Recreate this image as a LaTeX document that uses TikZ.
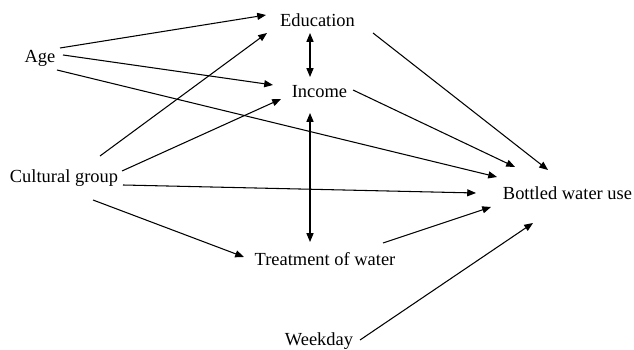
\documentclass[tikz,border=0pt]{standalone}
\usepackage{fontspec}
\setmainfont{Liberation Serif}
\usepackage{tikz}
\usetikzlibrary{arrows.meta}

\tikzset{
  lbl/.style={anchor=base, inner sep=0pt, font=\fontsize{10.5}{12}\selectfont},
  arr/.style={-{Triangle[length=5pt,width=4pt]}, line width=0.6pt},
  darr/.style={{Triangle[length=5pt,width=4pt]}-{Triangle[length=5pt,width=4pt]}, line width=0.6pt}
}

\begin{document}
\begin{tikzpicture}[x=0.02cm, y=-0.02cm]
\useasboundingbox (0,0) rectangle (634,350);
\node[lbl] (Edu) at (317.5,27) {Education};
\node[lbl] (Age) at (40,63) {Age};
\node[lbl] (Inc) at (319.5,98) {Income};
\node[lbl] (Cult) at (64,183) {Cultural group};
\node[lbl] (Bot) at (567.5,200) {Bottled water use};
\node[lbl] (Treat) at (325,266) {Treatment of water};
\node[lbl] (Week) at (319,346) {Weekday};
% from Age
\draw[arr] ([shift={(20,-15)}]Age.base) -- ([shift={(-51.5,-12)}]Edu.base);
\draw[arr] ([shift={(23,-8)}]Age.base) -- ([shift={(-46.5,-13)}]Inc.base);
\draw[arr] ([shift={(17,7)}]Age.base) -- ([shift={(-70.5,-23)}]Bot.base);
% from Cultural group
\draw[arr] ([shift={(36,-27)}]Cult.base) -- ([shift={(-50.5,6)}]Edu.base);
\draw[arr] ([shift={(58,-12)}]Cult.base) -- ([shift={(-38.5,1)}]Inc.base);
\draw[arr] ([shift={(59,2)}]Cult.base) -- ([shift={(-91.5,-7)}]Bot.base);
\draw[arr] ([shift={(29,17)}]Cult.base) -- ([shift={(-81,-9)}]Treat.base);
% two-way links
\draw[darr] ([shift={(-7.5,6)}]Edu.base) -- ([shift={(-9.5,-21)}]Inc.base);
\draw[darr] ([shift={(-9.5,15)}]Inc.base) -- ([shift={(-15,-24)}]Treat.base);
% into Bottled water use
\draw[arr] ([shift={(55.5,6)}]Edu.base) -- ([shift={(-19.5,-30)}]Bot.base);
\draw[arr] ([shift={(33.5,-8)}]Inc.base) -- ([shift={(-52.5,-33)}]Bot.base);
\draw[arr] ([shift={(58,-23)}]Treat.base) -- ([shift={(-76.5,7)}]Bot.base);
\draw[arr] ([shift={(41,-6)}]Week.base) -- ([shift={(-34.5,23)}]Bot.base);
\end{tikzpicture}
\end{document}
